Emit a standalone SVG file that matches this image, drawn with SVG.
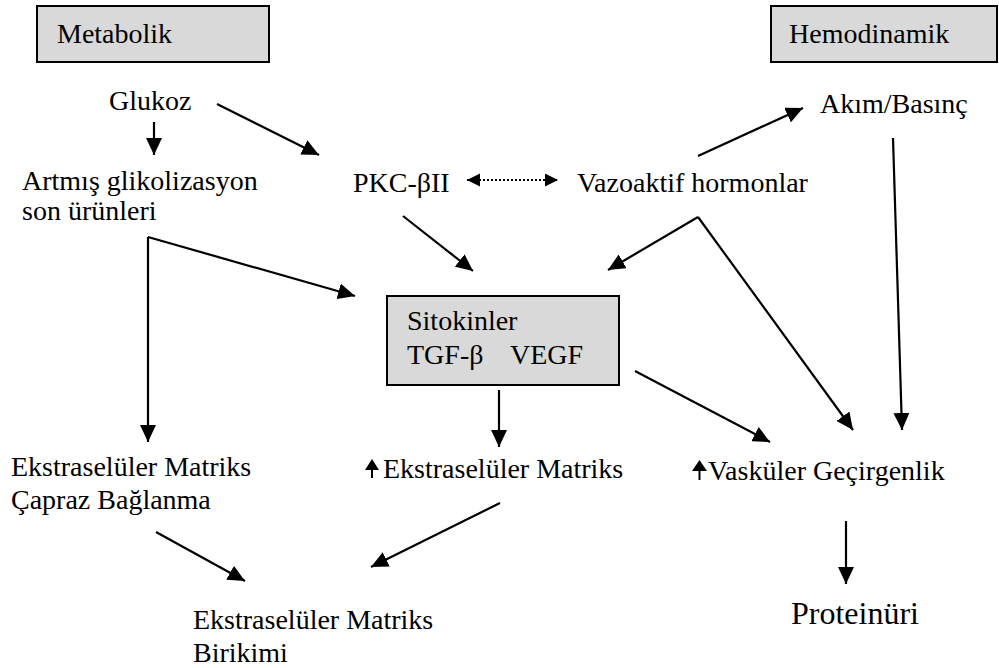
<svg xmlns="http://www.w3.org/2000/svg" width="999" height="668" viewBox="0 0 999 668">
<style>
.t{font-family:'Liberation Serif',serif;font-size:28px;fill:#000}
.box{fill:#d9d9d9;stroke:#000;stroke-width:2}
.c{stroke:#000;stroke-width:2.2;fill:none;marker-end:url(#ah)}
.d{stroke:#000;stroke-width:2;stroke-dasharray:2 2;fill:none;marker-end:url(#sh);marker-start:url(#sh)}
</style>
<defs>
<marker id="ah" markerUnits="userSpaceOnUse" markerWidth="18" markerHeight="16" refX="17" refY="8" orient="auto"><path d="M0,0 L17,8 L0,16 z" fill="#000"/></marker>
<marker id="sh" markerUnits="userSpaceOnUse" markerWidth="14" markerHeight="14" refX="13" refY="6.5" orient="auto-start-reverse"><path d="M0,0 L13,6.5 L0,13 z" fill="#000"/></marker>
</defs>
<g class="t">
<g id="metabolik"><rect class="box" x="37" y="6" width="232" height="56"/><text x="57" y="43">Metabolik</text></g>
<g id="hemodinamik"><rect class="box" x="771" y="6" width="226" height="56"/><text x="789" y="43">Hemodinamik</text></g>
<g id="glukoz"><text x="109" y="110">Glukoz</text></g>
<g id="artmis"><text x="22" y="190">Artmış glikolizasyon</text><text x="22" y="220">son ürünleri</text></g>
<g id="pkc"><text x="353" y="192">PKC-βII</text></g>
<g id="vazoaktif"><text x="577" y="192">Vazoaktif hormonlar</text></g>
<g id="akim"><text x="820" y="113">Akım/Basınç</text></g>
<g id="sitokinler"><rect class="box" x="387" y="296" width="232" height="89"/><text x="407" y="330">Sitokinler</text><text x="407" y="364">TGF-β</text><text x="510" y="364">VEGF</text></g>
<g id="ekm-capraz"><text x="11" y="476">Ekstraselüler Matriks</text><text x="11" y="509">Çapraz Bağlanma</text></g>
<g id="ekm-artis"><path d="M365,470 L372,459 L379,470 z M371,469 h2 v9 h-2 z" fill="#000"/><text x="383" y="478">Ekstraselüler Matriks</text></g>
<g id="vaskuler"><path d="M692,471 L699.5,460 L707,471 z M698.5,470 h2 v10 h-2 z" fill="#000"/><text x="708" y="480">Vasküler Geçirgenlik</text></g>
<g id="birikimi"><text x="193" y="629">Ekstraselüler Matriks</text><text x="193" y="662">Birikimi</text></g>
<g id="proteinuri"><text x="791" y="624" font-size="32">Proteinüri</text></g>
</g>
<g id="connectors">
<path class="c" d="M154,122 L154,155"/>
<path class="c" d="M217,104 L319,155"/>
<path class="d" d="M467,180 L558,180"/>
<path class="c" d="M148,237 L355,296"/>
<path class="c" d="M148,237 L148,442"/>
<path class="c" d="M403,216 L473,271"/>
<path class="c" d="M698,217 L608,270"/>
<path class="c" d="M698,217 L853,430"/>
<path class="c" d="M698,156 L803,108"/>
<path class="c" d="M893,138 L902,430"/>
<path class="c" d="M499,390 L499,447"/>
<path class="c" d="M635,371 L770,442"/>
<path class="c" d="M846,521 L846,584"/>
<path class="c" d="M156,532 L245,581"/>
<path class="c" d="M500,503 L371,567"/>
</g>
</svg>
